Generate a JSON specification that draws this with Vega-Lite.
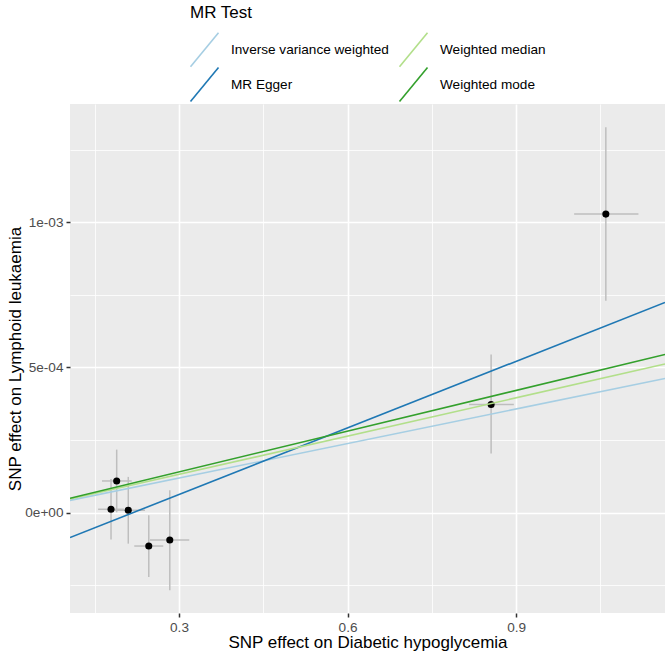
{
  "$schema": "https://vega.github.io/schema/vega-lite/v6.json",
  "width": 595,
  "height": 509,
  "autosize": {"type": "none"},
  "padding": {"left": 70, "top": 104, "right": 4, "bottom": 44},
  "background": "white",
  "config": {
    "font": "Liberation Sans",
    "view": {"fill": "#ebebeb", "stroke": null}
  },
  "datasets": {
    "snps": [
      {"bx": 0.1891, "by": 0.000109, "bx_lo": 0.1629, "bx_hi": 0.2158, "by_lo": 0.000001, "by_hi": 0.000217},
      {"bx": 0.179, "by": 0.0000114, "bx_lo": 0.156, "bx_hi": 0.202, "by_lo": -0.000093, "by_hi": 0.000116},
      {"bx": 0.2097, "by": 0.0000079, "bx_lo": 0.18, "bx_hi": 0.2395, "by_lo": -0.000107, "by_hi": 0.000123},
      {"bx": 0.2462, "by": -0.0001152, "bx_lo": 0.2204, "bx_hi": 0.272, "by_lo": -0.0000093, "by_hi": -0.000222},
      {"bx": 0.2836, "by": -0.0000945, "bx_lo": 0.2484, "bx_hi": 0.3183, "by_lo": 0.0000769, "by_hi": -0.000268},
      {"bx": 0.8555, "by": 0.0003724, "bx_lo": 0.8163, "bx_hi": 0.8959, "by_lo": 0.0002034, "by_hi": 0.0005448},
      {"bx": 1.0597, "by": 0.0010286, "bx_lo": 1.0033, "bx_hi": 1.1177, "by_lo": 0.0007297, "by_hi": 0.0013276}
    ],
    "fits": [
      {"method": "Inverse variance weighted", "bx": 0.106, "by": 0.000042},
      {"method": "Inverse variance weighted", "bx": 1.165, "by": 0.000462},
      {"method": "MR Egger", "bx": 0.106, "by": -0.000086},
      {"method": "MR Egger", "bx": 1.165, "by": 0.000724},
      {"method": "Weighted median", "bx": 0.106, "by": 0.0000466},
      {"method": "Weighted median", "bx": 1.165, "by": 0.000512},
      {"method": "Weighted mode", "bx": 0.106, "by": 0.0000496},
      {"method": "Weighted mode", "bx": 1.165, "by": 0.000545}
    ]
  },
  "layer": [
    {
      "data": {"name": "snps"},
      "mark": {"type": "rule", "color": "#bebebe", "strokeWidth": 1.5},
      "encoding": {
        "x": {
          "field": "bx",
          "type": "quantitative",
          "title": "SNP effect on Diabetic hypoglycemia",
          "scale": {"domain": [0.106, 1.165], "nice": false, "zero": false},
          "axis": {
            "values": [0.15, 0.3, 0.45, 0.6, 0.75, 0.9, 1.05],
            "labelExpr": "indexof([0.3, 0.6, 0.9], datum.value) >= 0 ? format(datum.value, '.1f') : ''",
            "gridColor": "white",
            "gridWidth": {"condition": {"test": "indexof([0.3, 0.6, 0.9], datum.value) >= 0", "value": 1.6}, "value": 0.8},
            "ticks": true,
            "tickSize": 4,
            "tickColor": {"condition": {"test": "indexof([0.3, 0.6, 0.9], datum.value) >= 0", "value": "#333333"}, "value": "rgba(0,0,0,0)"},
            "tickWidth": 1.5,
            "domain": false,
            "labelColor": "#4d4d4d",
            "labelFontSize": 13.6,
            "labelPadding": 3,
            "titleFontSize": 17,
            "titleFontWeight": "normal",
            "titleColor": "black",
            "titlePadding": 1
          }
        },
        "y": {
          "field": "by_lo",
          "type": "quantitative",
          "title": "SNP effect on Lymphoid leukaemia",
          "scale": {"domain": [-0.000346, 0.001408], "nice": false, "zero": false},
          "axis": {
            "values": [-0.00025, 0, 0.00025, 0.0005, 0.00075, 0.001, 0.00125],
            "labelExpr": "datum.value == 0 ? '0e+00' : datum.value == 0.0005 ? '5e-04' : datum.value == 0.001 ? '1e-03' : ''",
            "gridColor": "white",
            "gridWidth": {"condition": {"test": "indexof([0, 0.0005, 0.001], datum.value) >= 0", "value": 1.6}, "value": 0.8},
            "ticks": true,
            "tickSize": 4,
            "tickColor": {"condition": {"test": "indexof([0, 0.0005, 0.001], datum.value) >= 0", "value": "#333333"}, "value": "rgba(0,0,0,0)"},
            "tickWidth": 1.5,
            "domain": false,
            "labelColor": "#4d4d4d",
            "labelFontSize": 13.6,
            "labelPadding": 3,
            "titleFontSize": 17,
            "titleFontWeight": "normal",
            "titleColor": "black",
            "titlePadding": 0
          }
        },
        "y2": {"field": "by_hi"}
      }
    },
    {
      "data": {"name": "snps"},
      "mark": {"type": "rule", "color": "#bebebe", "strokeWidth": 1.5},
      "encoding": {
        "x": {"field": "bx_lo", "type": "quantitative", "title": "SNP effect on Diabetic hypoglycemia"},
        "x2": {"field": "bx_hi"},
        "y": {"field": "by", "type": "quantitative", "title": "SNP effect on Lymphoid leukaemia"}
      }
    },
    {
      "data": {"name": "snps"},
      "mark": {"type": "point", "filled": true, "color": "black", "opacity": 1, "size": 50},
      "encoding": {
        "x": {"field": "bx", "type": "quantitative", "title": "SNP effect on Diabetic hypoglycemia"},
        "y": {"field": "by", "type": "quantitative", "title": "SNP effect on Lymphoid leukaemia"}
      }
    },
    {
      "data": {"name": "fits"},
      "mark": {"type": "line", "strokeWidth": 1.6, "clip": true},
      "encoding": {
        "x": {"field": "bx", "type": "quantitative", "title": "SNP effect on Diabetic hypoglycemia"},
        "y": {"field": "by", "type": "quantitative", "title": "SNP effect on Lymphoid leukaemia"},
        "color": {
          "field": "method",
          "type": "nominal",
          "scale": {
            "domain": ["Inverse variance weighted", "MR Egger", "Weighted median", "Weighted mode"],
            "range": ["#a6cee3", "#1f78b4", "#b2df8a", "#33a02c"]
          },
          "legend": {
            "orient": "none",
            "legendX": 120,
            "legendY": -99,
            "columns": 2,
            "title": "MR Test",
            "titleFontSize": 17,
            "titleFontWeight": "normal",
            "titleColor": "black",
            "titlePadding": 13,
            "labelFontSize": 13.6,
            "labelColor": "black",
            "labelLimit": 300,
            "labelOffset": 12,
            "symbolType": "M-1.037,1.26L1.037,-1.26",
            "symbolSize": 729,
            "symbolStrokeWidth": 1.6,
            "columnPadding": 7,
            "rowPadding": -6,
            "gridAlign": "each"
          }
        }
      }
    }
  ]
}
